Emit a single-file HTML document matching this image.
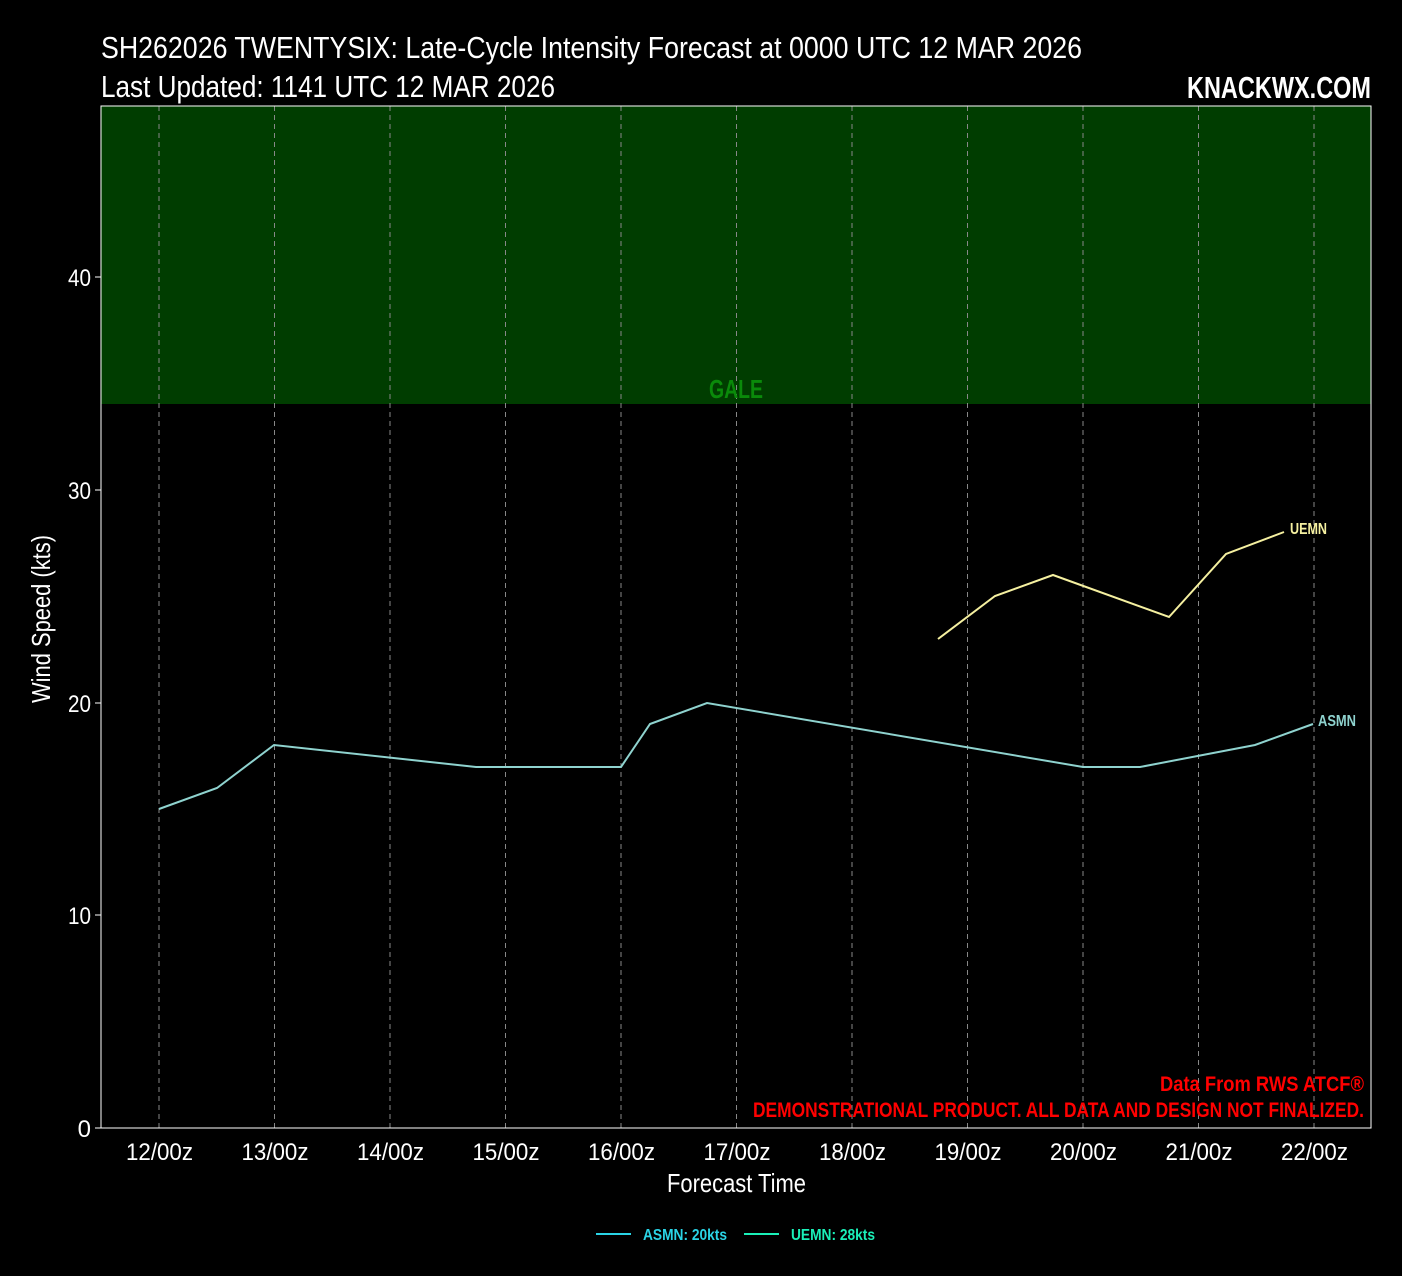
<!DOCTYPE html>
<html><head><meta charset="utf-8"><style>
html,body{margin:0;padding:0;background:#000;overflow:hidden;width:1402px;height:1276px;}
svg{display:block;}
svg text{font-family:"Liberation Sans Narrow","Liberation Sans",sans-serif;}
</style></head><body>
<svg width="1402" height="1276" xmlns="http://www.w3.org/2000/svg">
<rect width="1402" height="1276" fill="#000"/>
<text x="101" y="58" fill="#fff" font-size="31" textLength="981" lengthAdjust="spacingAndGlyphs">SH262026 TWENTYSIX: Late-Cycle Intensity Forecast at 0000 UTC 12 MAR 2026</text>
<text x="101" y="97" fill="#fff" font-size="31" textLength="454" lengthAdjust="spacingAndGlyphs">Last Updated: 1141 UTC 12 MAR 2026</text>
<text x="1187" y="98" fill="#fff" font-size="31" font-weight="bold" textLength="184" lengthAdjust="spacingAndGlyphs">KNACKWX.COM</text>
<rect x="101" y="106" width="1270" height="298" fill="#003d00"/>
<g stroke="#888" stroke-dasharray="5,4" stroke-width="1">
<line x1="159" y1="106" x2="159" y2="1128"/><line x1="274.5" y1="106" x2="274.5" y2="1128"/>
<line x1="390" y1="106" x2="390" y2="1128"/><line x1="505.5" y1="106" x2="505.5" y2="1128"/>
<line x1="621" y1="106" x2="621" y2="1128"/><line x1="736.5" y1="106" x2="736.5" y2="1128"/>
<line x1="852" y1="106" x2="852" y2="1128"/><line x1="967.5" y1="106" x2="967.5" y2="1128"/>
<line x1="1083" y1="106" x2="1083" y2="1128"/><line x1="1198.5" y1="106" x2="1198.5" y2="1128"/>
<line x1="1314" y1="106" x2="1314" y2="1128"/>
</g>
<text x="709" y="398" fill="#0a8a0a" font-size="26" font-weight="bold" textLength="54" lengthAdjust="spacingAndGlyphs">GALE</text>
<rect x="101" y="106" width="1270" height="1022" fill="none" stroke="#fff" stroke-width="1"/>
<g stroke="#fff"><line x1="95" y1="1128" x2="101" y2="1128"/><line x1="95" y1="915" x2="101" y2="915"/><line x1="95" y1="703" x2="101" y2="703"/><line x1="95" y1="490" x2="101" y2="490"/><line x1="95" y1="277" x2="101" y2="277"/></g>
<g fill="#fff" font-size="24" text-anchor="end">
<text x="91" y="1137">0</text><text x="91" y="924" textLength="23" lengthAdjust="spacingAndGlyphs">10</text><text x="91" y="712" textLength="23" lengthAdjust="spacingAndGlyphs">20</text><text x="91" y="499" textLength="23" lengthAdjust="spacingAndGlyphs">30</text><text x="91" y="286" textLength="23" lengthAdjust="spacingAndGlyphs">40</text>
</g>
<g fill="#fff" font-size="24">
<text x="126" y="1160" textLength="67" lengthAdjust="spacingAndGlyphs">12/00z</text>
<text x="241.5" y="1160" textLength="67" lengthAdjust="spacingAndGlyphs">13/00z</text>
<text x="357" y="1160" textLength="67" lengthAdjust="spacingAndGlyphs">14/00z</text>
<text x="472.5" y="1160" textLength="67" lengthAdjust="spacingAndGlyphs">15/00z</text>
<text x="588" y="1160" textLength="67" lengthAdjust="spacingAndGlyphs">16/00z</text>
<text x="703.5" y="1160" textLength="67" lengthAdjust="spacingAndGlyphs">17/00z</text>
<text x="819" y="1160" textLength="67" lengthAdjust="spacingAndGlyphs">18/00z</text>
<text x="934.5" y="1160" textLength="67" lengthAdjust="spacingAndGlyphs">19/00z</text>
<text x="1050" y="1160" textLength="67" lengthAdjust="spacingAndGlyphs">20/00z</text>
<text x="1165.5" y="1160" textLength="67" lengthAdjust="spacingAndGlyphs">21/00z</text>
<text x="1281" y="1160" textLength="67" lengthAdjust="spacingAndGlyphs">22/00z</text>
</g>
<text x="667" y="1192" fill="#fff" font-size="26" textLength="139" lengthAdjust="spacingAndGlyphs">Forecast Time</text>
<text transform="translate(50,703) rotate(-90)" fill="#fff" font-size="26" textLength="168" lengthAdjust="spacingAndGlyphs">Wind Speed (kts)</text>
<polyline fill="none" stroke="#8fd3cf" stroke-width="2" points="159,809 217,788 274,745 476,767 621,767 650,724 707,703 1083,767 1140,767 1255,745 1313,724"/>
<polyline fill="none" stroke="#f5f0a0" stroke-width="2" points="938,639 995,596 1053,575 1169,617 1226,554 1284,532"/>
<text x="1318" y="726" fill="#8fd3cf" font-size="16" font-weight="bold" textLength="38" lengthAdjust="spacingAndGlyphs">ASMN</text>
<text x="1290" y="534" fill="#f5f0a0" font-size="16" font-weight="bold" textLength="37" lengthAdjust="spacingAndGlyphs">UEMN</text>
<text x="1160" y="1091" fill="#f00" font-size="21" font-weight="bold" textLength="204" lengthAdjust="spacingAndGlyphs">Data From RWS ATCF®</text>
<text x="753" y="1117" fill="#f00" font-size="21" font-weight="bold" textLength="611" lengthAdjust="spacingAndGlyphs">DEMONSTRATIONAL PRODUCT. ALL DATA AND DESIGN NOT FINALIZED.</text>
<line x1="596" y1="1234" x2="631" y2="1234" stroke="#2ad4e6" stroke-width="2"/>
<text x="643" y="1240" fill="#2ad4e6" font-size="16" font-weight="bold" textLength="84" lengthAdjust="spacingAndGlyphs">ASMN: 20kts</text>
<line x1="744" y1="1234" x2="779" y2="1234" stroke="#1af0b8" stroke-width="2"/>
<text x="791" y="1240" fill="#1af0b8" font-size="16" font-weight="bold" textLength="84" lengthAdjust="spacingAndGlyphs">UEMN: 28kts</text>
</svg>
</body></html>
